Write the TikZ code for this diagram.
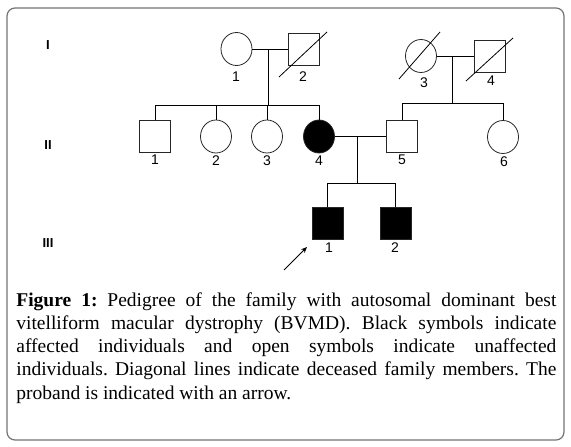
\documentclass[tikz,border=0pt]{standalone}
\usepackage{fontspec}
\setmainfont{Liberation Serif}
\newfontfamily\pedfont{Liberation Sans}
\usetikzlibrary{shapes.geometric,arrows.meta}

\begin{document}
\begin{tikzpicture}[x=1pt,y=-1pt,line width=0.8pt,
  male/.style={draw=black!85,rectangle,minimum width=31pt,minimum height=32pt,inner sep=0pt},
  female/.style={draw=black!85,ellipse,minimum width=31pt,minimum height=33pt,inner sep=0pt},
  aff/.style={fill=black},
  idno/.style={font=\pedfont\fontsize{14}{14}\selectfont,inner sep=0pt},
  gen/.style={font=\pedfont\bfseries\fontsize{13}{13}\selectfont,inner sep=0pt}]
  \useasboundingbox (0,0) rectangle (571,447);
  % Frame round the figure
  \draw[black!55,line width=1.2pt,rounded corners=8pt] (7,8) rectangle (564,440);
  % Generation numbers
  \node[gen] (g1) at (48,45)  {I};
  \node[gen] (g2) at (48,145) {II};
  \node[gen] (g3) at (48,243) {III};
  % Generation I
  \node[female] (i1) at (236.5,49) {};
  \node[male]   (i2) at (304,49)   {};
  \node[female] (i3) at (421,56)   {};
  \node[male]   (i4) at (490,56)   {};
  \node[idno] (li1) at (236,77) {1};
  \node[idno] (li2) at (303,77) {2};
  \node[idno] (li3) at (424,83) {3};
  \node[idno] (li4) at (491,81) {4};
  \draw ([shift={(-25,28)}]i2.center) -- ([shift={(23,-17)}]i2.center);
  \draw ([shift={(-22,23)}]i3.center) -- ([shift={(19,-24)}]i3.center);
  \draw ([shift={(-24,25)}]i4.center) -- ([shift={(23,-18)}]i4.center);
  \draw (i1) -- (i2);
  \draw (i3) -- (i4);
  \coordinate (m1) at (268,49);
  \coordinate (s1) at (268,105);
  \coordinate (m2) at (452,56);
  \coordinate (s2) at (452,103);
  \draw (m1) -- (s1);
  \draw (m2) -- (s2);
  % Generation II
  \node[male]       (ii1) at (155,136.5) {};
  \node[female]     (ii2) at (216,136.5) {};
  \node[female]     (ii3) at (267,136.5) {};
  \node[female,aff] (ii4) at (319,136.5) {};
  \node[male]       (ii5) at (402,136.5) {};
  \node[female]     (ii6) at (503,137)   {};
  \node[idno] (lii1) at (155,160) {1};
  \node[idno] (lii2) at (216,161) {2};
  \node[idno] (lii3) at (267,161) {3};
  \node[idno] (lii4) at (319,161) {4};
  \node[idno] (lii5) at (402,160) {5};
  \node[idno] (lii6) at (504,162) {6};
  \draw (ii1.north) |- (ii4.north |- s1) -- (ii4.north);
  \draw (ii2.north) -- (ii2.north |- s1);
  \draw (ii3.north) -- (ii3.north |- s1);
  \draw (ii5.north) |- (ii6.north |- s2) -- (ii6.north);
  \draw (ii4) -- (ii5);
  \coordinate (m3) at (357,136.5);
  \coordinate (s3) at (357,183);
  \draw (m3) -- (s3);
  % Generation III
  \node[male,aff] (iii1) at (327.5,223.5) {};
  \node[male,aff] (iii2) at (395.5,223.5) {};
  \node[idno] (liii1) at (329,248) {1};
  \node[idno] (liii2) at (395,248) {2};
  \draw (iii1.north) |- (iii2.north |- s3) -- (iii2.north);
  % Proband arrow
  \coordinate (pb) at (284,270);
  \coordinate (pt) at (307,247);
  \draw[-{Stealth[length=6pt,width=5pt]}] (pb) -- (pt);
  % Caption
  \node[anchor=base west,text width=540pt,align=justify,inner sep=0pt,
        font=\fontsize{19.5}{23.3}\selectfont\frenchspacing] (cap) at (16,306)
    {\textbf{Figure 1:} Pedigree of the family with autosomal dominant best\linebreak
     vitelliform macular dystrophy (BVMD). Black symbols indicate\linebreak
     affected individuals and open symbols indicate unaffected\linebreak
     individuals. Diagonal lines indicate deceased family members. The\linebreak
     proband is indicated with an arrow.};
\end{tikzpicture}
\end{document}
